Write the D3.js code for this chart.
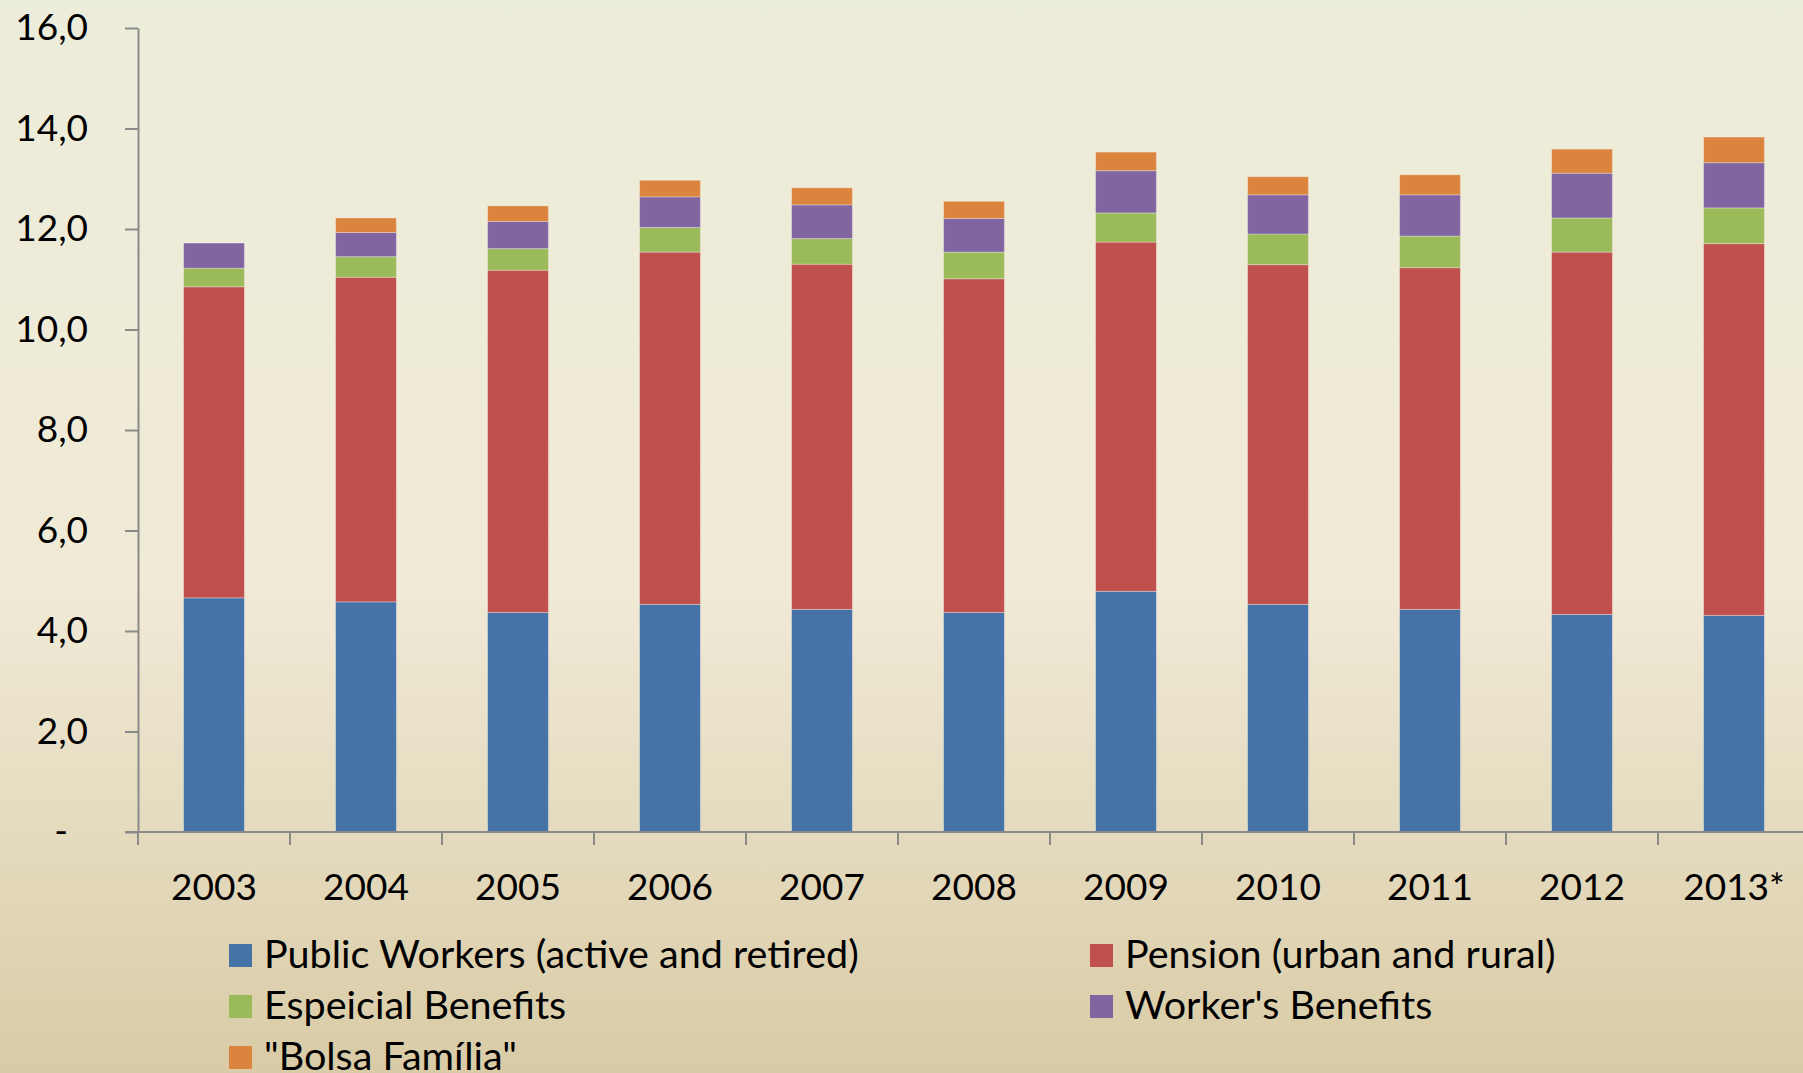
<!DOCTYPE html>
<html>
<head>
<meta charset="utf-8">
<script src="https://cdn.jsdelivr.net/npm/d3@7"></script>
<style>
  html, body { margin: 0; padding: 0; }
  body { width: 1803px; height: 1073px; overflow: hidden; }
  text { font-family: Lato, "Open Sans", sans-serif; fill: #000; }
</style>
</head>
<body>
<script>
const years = ["2003", "2004", "2005", "2006", "2007", "2008", "2009", "2010", "2011", "2012", "2013*"];
const publicWorkers = [4.66, 4.58, 4.37, 4.53, 4.43, 4.37, 4.79, 4.53, 4.43, 4.33, 4.31];
const pension = [6.19, 6.46, 6.81, 7.01, 6.87, 6.64, 6.95, 6.76, 6.80, 7.21, 7.40];
const especial = [0.37, 0.41, 0.43, 0.49, 0.51, 0.53, 0.58, 0.61, 0.63, 0.68, 0.71];
const workerBenefits = [0.50, 0.48, 0.54, 0.61, 0.67, 0.67, 0.84, 0.78, 0.82, 0.89, 0.90];
const bolsa = [0, 0.29, 0.31, 0.33, 0.34, 0.34, 0.37, 0.36, 0.40, 0.48, 0.51];

const seriesNames = ["Public Workers (active and retired)", "Pension (urban and rural)",
  "Espeicial Benefits", "Worker's Benefits", "\"Bolsa Família\""];
const seriesValues = [publicWorkers, pension, especial, workerBenefits, bolsa];
const colors = ["#4673A7", "#C0504D", "#9BBA59", "#8165A0", "#DB843D"];
const yTicks = [0, 2, 4, 6, 8, 10, 12, 14, 16];

const width = 1803;
const height = 1073;
const plotLeft = 138, plotRight = 1810, plotTop = 28, plotBottom = 832;
const fontSize = 37;
const legendFontSize = 39.5;

const svg = d3.select("body").append("svg")
  .attr("width", width)
  .attr("height", height);

// background gradient
const grad = svg.append("defs").append("linearGradient")
  .attr("id", "bg").attr("x1", 0).attr("x2", 0).attr("y1", 0).attr("y2", 1);
grad.append("stop").attr("offset", "0%").attr("stop-color", "#ECEDDA");
grad.append("stop").attr("offset", "55%").attr("stop-color", "#F0EAD6");
grad.append("stop").attr("offset", "100%").attr("stop-color", "#D9CBA6");
svg.append("rect").attr("width", width).attr("height", height).attr("fill", "url(#bg)");

const table = years.map((yr, i) => {
  const row = { year: yr };
  seriesNames.forEach((s, j) => row[s] = seriesValues[j][i]);
  return row;
});

const stacked = d3.stack().keys(seriesNames)(table);

const x = d3.scaleBand().domain(years).range([plotLeft, plotRight]).padding(0);
const y = d3.scaleLinear().domain([0, 16]).range([plotBottom, plotTop]);
const barW = x.bandwidth() * 0.4;

// bars
svg.append("g")
  .selectAll("g")
  .data(stacked)
  .join("g")
  .attr("fill", (d, i) => colors[i])
  .selectAll("rect")
  .data(d => d)
  .join("rect")
  .attr("x", d => x(d.data.year) + (x.bandwidth() - barW) / 2)
  .attr("y", d => y(d[1]))
  .attr("width", barW)
  .attr("height", d => y(d[0]) - y(d[1]))
  .attr("stroke", "rgba(255,255,255,0.3)")
  .attr("stroke-width", 1);

// y axis
const fmt = d => d === 0 ? "-" : d3.format(".1f")(d).replace(".", ",");
const yAxis = svg.append("g")
  .attr("transform", `translate(${plotLeft},0)`)
  .call(d3.axisLeft(y).tickValues(yTicks).tickFormat(fmt).tickSize(13).tickSizeOuter(0).tickPadding(37));
yAxis.selectAll("text").style("font-size", fontSize + "px").style("font-family", "Lato");
yAxis.selectAll(".tick").filter(d => d === 0).select("text").attr("x", -70);
yAxis.selectAll("line, path").attr("stroke", "#8a8a8a").attr("stroke-width", 2);

// x axis
const xAxis = svg.append("g")
  .attr("transform", `translate(0,${plotBottom})`)
  .call(d3.axisBottom(x).tickSize(0).tickPadding(42));
xAxis.select(".domain").remove();
xAxis.selectAll("text").style("font-size", fontSize + "px").style("font-family", "Lato");
xAxis.append("line")
  .attr("x1", 125).attr("x2", width)
  .attr("stroke", "#8a8a8a").attr("stroke-width", 2);
xAxis.selectAll(".sep")
  .data(years)
  .join("line")
  .attr("class", "sep")
  .attr("x1", d => x(d)).attr("x2", d => x(d))
  .attr("y1", 0).attr("y2", 13)
  .attr("stroke", "#8a8a8a").attr("stroke-width", 2);

// legend
const legendPos = [[229, 944], [1090, 944], [229, 995], [1090, 995], [229, 1046]];
const legend = svg.append("g")
  .selectAll("g")
  .data(seriesNames)
  .join("g")
  .attr("transform", (d, i) => `translate(${legendPos[i][0]},${legendPos[i][1]})`);
legend.append("rect")
  .attr("width", 23).attr("height", 23)
  .attr("fill", (d, i) => colors[i]);
legend.append("text")
  .attr("x", 35).attr("y", 24)
  .style("font-size", legendFontSize + "px")
  .text(d => d);
</script>
</body>
</html>
